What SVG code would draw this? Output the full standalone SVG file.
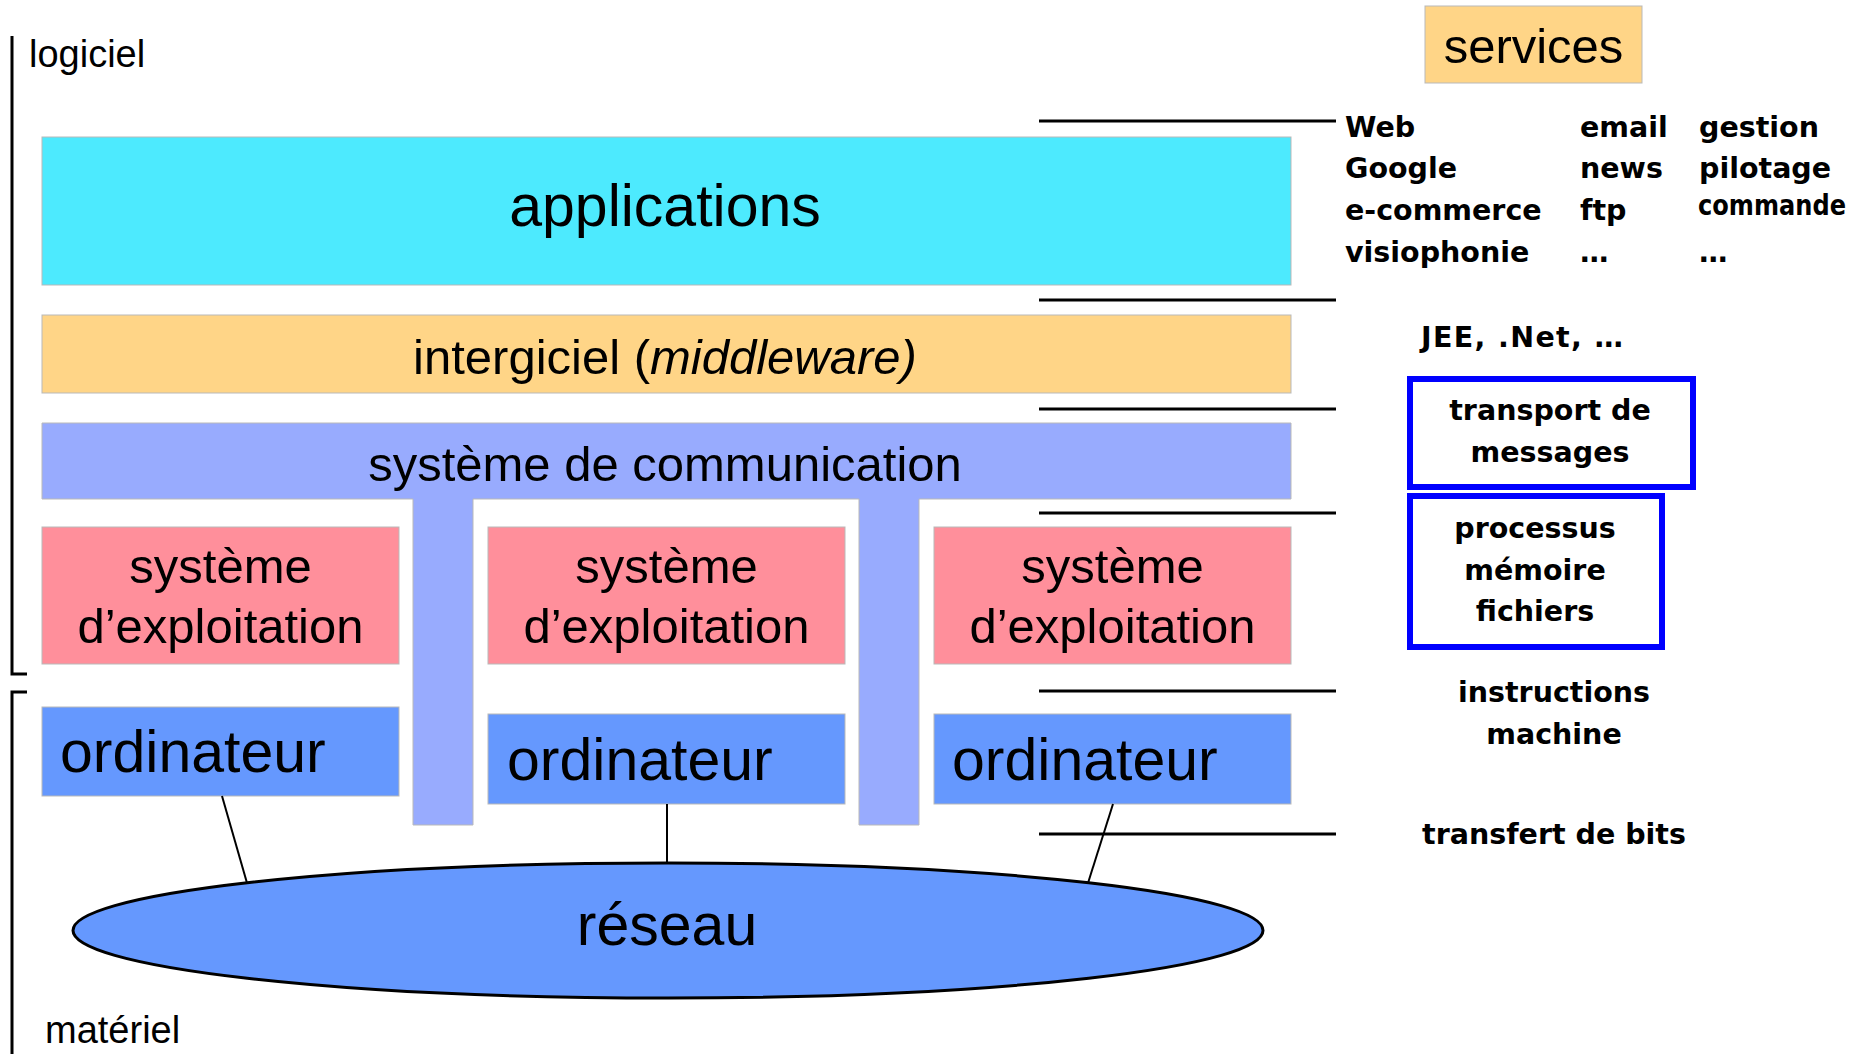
<svg xmlns="http://www.w3.org/2000/svg" width="1869" height="1054" viewBox="0 0 1869 1054">
  <style>
    .lbl { font-family: "Liberation Sans", Arial, sans-serif; fill: #000; }
    .big { font-size: 59px; }
    .mid { font-size: 49px; }
    .side { font-size: 38px; }
    .note { font-family: "DejaVu Sans", Verdana, sans-serif; font-weight: bold; font-size: 28.5px; fill: #000; }
    .c { text-anchor: middle; }
    .edge { stroke: #b9b9b9; stroke-width: 1; }
    .rule { stroke: #000; stroke-width: 3; fill: none; }
    .wire { stroke: #000; stroke-width: 2; fill: none; }
    .frame { fill: #fff; stroke: #0000ff; stroke-width: 6; }
  </style>
  <rect width="1869" height="1054" fill="#fff"/>

  <!-- brackets: software / hardware -->
  <g id="brackets">
    <path class="rule" d="M12,36 V674 H27"/>
    <path class="rule" d="M27,692 H12 V1054"/>
    <text class="lbl side" x="29" y="67">logiciel</text>
    <text class="lbl side" x="45" y="1043">matériel</text>
  </g>

  <g id="applications">
    <rect class="edge" x="42" y="137" width="1249" height="148" fill="#4deafe"/>
    <text class="lbl big c" x="665" y="226">applications</text>
  </g>

  <g id="intergiciel">
    <rect class="edge" x="42" y="315" width="1249" height="78" fill="#ffd587"/>
    <text class="lbl mid c" x="665" y="374">intergiciel (<tspan font-style="italic">middleware)</tspan></text>
  </g>

  <g id="communication">
    <path class="edge" fill="#98abfe" d="M42,423 H1291 V499 H919 V825 H859 V499 H473 V825 H413 V499 H42 Z"/>
    <text class="lbl mid c" x="665" y="481">système de communication</text>
  </g>

  <g id="os1">
    <rect class="edge" x="42" y="527" width="357" height="137" fill="#ff8f9b"/>
    <text class="lbl mid c" x="220.5" y="583">système</text>
    <text class="lbl mid c" x="220.5" y="643">d’exploitation</text>
  </g>
  <g id="os2">
    <rect class="edge" x="488" y="527" width="357" height="137" fill="#ff8f9b"/>
    <text class="lbl mid c" x="666.5" y="583">système</text>
    <text class="lbl mid c" x="666.5" y="643">d’exploitation</text>
  </g>
  <g id="os3">
    <rect class="edge" x="934" y="527" width="357" height="137" fill="#ff8f9b"/>
    <text class="lbl mid c" x="1112.5" y="583">système</text>
    <text class="lbl mid c" x="1112.5" y="643">d’exploitation</text>
  </g>

  <g id="ordinateur1">
    <rect class="edge" x="42" y="707" width="357" height="89" fill="#6598fe"/>
    <text class="lbl big" x="60" y="772">ordinateur</text>
  </g>
  <g id="ordinateur2">
    <rect class="edge" x="488" y="714" width="357" height="90" fill="#6598fe"/>
    <text class="lbl big" x="507" y="780">ordinateur</text>
  </g>
  <g id="ordinateur3">
    <rect class="edge" x="934" y="714" width="357" height="90" fill="#6598fe"/>
    <text class="lbl big" x="952" y="780">ordinateur</text>
  </g>

  <g id="reseau">
    <ellipse cx="668" cy="930.5" rx="595" ry="67.5" fill="#6598fe" stroke="#000" stroke-width="3"/>
    <text class="lbl big c" x="667" y="945">réseau</text>
  </g>

  <g id="services">
    <rect class="edge" x="1425" y="6" width="217" height="77" fill="#ffd587"/>
    <text class="lbl mid c" x="1533.5" y="63">services</text>
  </g>

  <g id="connectors">
    <!-- layer separators -->
    <line class="rule" x1="1039" y1="121" x2="1336" y2="121"/>
    <line class="rule" x1="1039" y1="300" x2="1336" y2="300"/>
    <line class="rule" x1="1039" y1="409" x2="1336" y2="409"/>
    <line class="rule" x1="1039" y1="513" x2="1336" y2="513"/>
    <line class="rule" x1="1039" y1="691" x2="1336" y2="691"/>
    <line class="rule" x1="1039" y1="834" x2="1336" y2="834"/>
    <!-- computer to network links -->
    <line class="wire" x1="222" y1="796" x2="247" y2="883"/>
    <line class="wire" x1="667" y1="804" x2="667" y2="863"/>
    <line class="wire" x1="1113" y1="804" x2="1088" y2="883"/>
  </g>

  <g id="service-list">
    <text class="note" x="1345" y="137">Web</text>
    <text class="note" x="1345" y="178">Google</text>
    <text class="note" x="1345" y="220">e-commerce</text>
    <text class="note" x="1345" y="262">visiophonie</text>
    <text class="note" x="1580" y="137">email</text>
    <text class="note" x="1580" y="178">news</text>
    <text class="note" x="1580" y="220">ftp</text>
    <text class="note" x="1580" y="262">…</text>
    <text class="note" x="1699" y="137">gestion</text>
    <text class="note" x="1699" y="178">pilotage</text>
    <text class="note" x="1698" y="215" font-size="20" textLength="148" lengthAdjust="spacingAndGlyphs">commande</text>
    <text class="note" x="1699" y="262">…</text>
  </g>

  <g id="middleware-list">
    <text class="note c" x="1522" y="347" textLength="202">JEE, .Net, …</text>
  </g>

  <g id="transport">
    <rect class="frame" x="1410" y="379" width="283" height="108"/>
    <text class="note c" x="1550" y="420">transport de</text>
    <text class="note c" x="1550" y="462">messages</text>
  </g>

  <g id="os-services">
    <rect class="frame" x="1410" y="496" width="252" height="151"/>
    <text class="note c" x="1535" y="538">processus</text>
    <text class="note c" x="1535" y="580">mémoire</text>
    <text class="note c" x="1535" y="621">fichiers</text>
  </g>

  <g id="hardware-notes">
    <text class="note c" x="1554" y="702">instructions</text>
    <text class="note c" x="1554" y="744">machine</text>
    <text class="note c" x="1554" y="844">transfert de bits</text>
  </g>
</svg>
